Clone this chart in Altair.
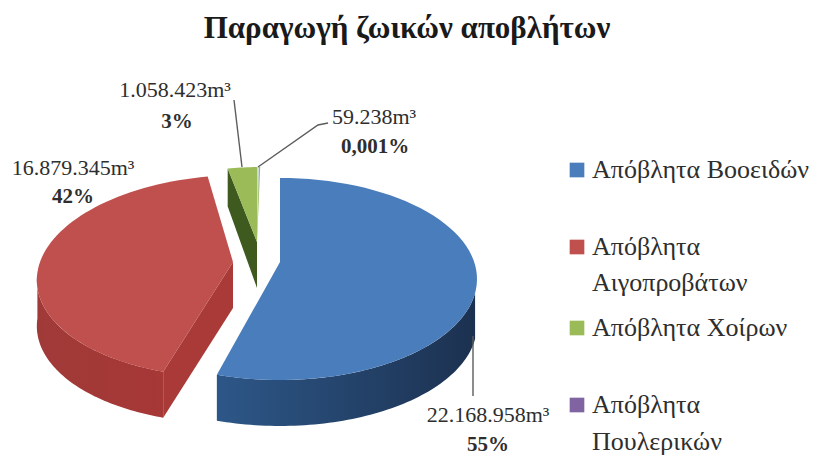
import math
import altair as alt
import pandas as pd

# Volumes per waste stream, in cubic metres
series_names = ["Απόβλητα Βοοειδών", "Απόβλητα Αιγοπροβάτων", "Απόβλητα Χοίρων", "Απόβλητα Πουλερικών"]
volumes = [22168958, 16879345, 1058423, 59238]
volume_labels = ["22.168.958m³", "16.879.345m³", "1.058.423m³", "59.238m³"]
share_labels = ["55%", "42%", "3%", "0,001%"]
colors = ["#4a7dbb", "#c0504d", "#9bbb59", "#8064a2"]

SERIF = "Liberation Serif"
W, H = 815, 455

# Slice placement on the tilted disc: rim centre, apex, lean of the exploded slices
A, B, DEPTH = 197, 101, 46
layout = {
    0: dict(cx=280, cy=279, ax=280, ay=262, lean=0.0),
    1: dict(cx=234, cy=276, ax=233, ay=262, lean=-0.08),
    2: dict(cx=259, cy=268, ax=257, ay=242, lean=-0.03),
    3: dict(cx=259, cy=268, ax=257, ay=242, lean=0.0),
}

# Turn the volumes into clockwise angles measured from twelve o'clock
total = sum(volumes)
edges = [0.0]
for v in volumes:
    edges.append(edges[-1] + 360 * v / total)


def rim(i, t0, t1, dy=0, steps=70):
    p = layout[i]
    pts = []
    for k in range(steps + 1):
        t = math.radians(t0 + (t1 - t0) * k / steps)
        y_off = -B * math.cos(t)
        pts.append([p["cx"] + A * math.sin(t) + p["lean"] * y_off, p["cy"] + y_off + dy])
    return pts


def polygon(points):
    ring = points + [points[0]]
    return {"type": "Feature", "properties": {}, "geometry": {"type": "Polygon", "coordinates": [ring]}}


def shape(points, fill):
    return alt.Chart(alt.Data(values=[polygon(points)])).mark_geoshape(
        fill=fill, strokeWidth=0, stroke="transparent"
    ).project(type="identity", scale=1, translate=[0, 0])


def side_gradient(left, right):
    return alt.Gradient(
        gradient="linear", x1=0, x2=1, y1=0, y2=0,
        stops=[alt.GradientStop(offset=0, color=left), alt.GradientStop(offset=1, color=right)],
    )


def apex(i, dy=0):
    return [layout[i]["ax"], layout[i]["ay"] + dy]


# Red slice: outer wall, cut face, top
red0, red1 = edges[1], edges[2]
red_wall = rim(1, red0, 272) + rim(1, red0, 272, dy=DEPTH)[::-1]
red_corner = rim(1, red0, red0, steps=1)[0]
red_cut = [apex(1), red_corner, [red_corner[0], red_corner[1] + DEPTH], apex(1, DEPTH)]
red_top = [apex(1)] + rim(1, red0, red1)

# Green slice and the thin sliver beside it
green0, green1 = edges[2], edges[3]
green_corner = rim(2, green0, green0, steps=1)[0]
green_cut = [apex(2), green_corner, [green_corner[0], green_corner[1] + 38], apex(2, DEPTH)]
green_top = [apex(2)] + rim(2, green0, green1, steps=10)
sliver_top = [apex(3)] + rim(3, edges[3], edges[4], steps=4)

# Blue slice: outer wall and top
blue0, blue1 = edges[0], edges[1]
blue_wall = rim(0, 98, blue1) + rim(0, 98, blue1, dy=DEPTH)[::-1]
blue_top = [apex(0)] + rim(0, blue0, blue1)

pie = [
    shape(red_wall, side_gradient("#a03a38", "#a63836")),
    shape(red_cut, "#a93a37"),
    shape(red_top, colors[1]),
    shape(green_cut, "#3f5a1f"),
    shape(green_top, colors[2]),
    shape(sliver_top, "#d5deec"),
    shape(blue_wall, side_gradient("#2d5788", "#1c3150")),
    shape(blue_top, colors[0]),
]

x_px = alt.X("x:Q", scale=alt.Scale(domain=[0, W], range=[0, W]), axis=None)
y_px = alt.Y("y:Q", scale=alt.Scale(domain=[0, H], range=[0, H]), axis=None)

# Leader lines from the value labels to the slices
leaders = pd.DataFrame([
    dict(id="a", o=0, x=234, y=100), dict(id="a", o=1, x=242, y=167),
    dict(id="b", o=0, x=258, y=167), dict(id="b", o=1, x=318, y=125), dict(id="b", o=2, x=328, y=123),
    dict(id="c", o=0, x=473, y=336), dict(id="c", o=1, x=473, y=396),
])
leader_layer = alt.Chart(leaders).mark_line(color="#5c5c5c", strokeWidth=1.4).encode(
    x=x_px, y=y_px, detail="id:N", order="o:Q"
)

value_text = pd.DataFrame([
    dict(t=volume_labels[2], x=175, y=90), dict(t=volume_labels[3], x=374, y=117),
    dict(t=volume_labels[1], x=73, y=168), dict(t=volume_labels[0], x=488, y=415),
])
share_text = pd.DataFrame([
    dict(t=share_labels[2], x=177, y=122), dict(t=share_labels[3], x=375, y=147),
    dict(t=share_labels[1], x=73, y=197), dict(t=share_labels[0], x=488, y=445),
])
value_layer = alt.Chart(value_text).mark_text(font=SERIF, fontSize=22, color="#2e2e2e").encode(
    x=x_px, y=y_px, text="t:N"
)
share_layer = alt.Chart(share_text).mark_text(font=SERIF, fontSize=21, fontWeight="bold", color="#2e2e2e").encode(
    x=x_px, y=y_px, text="t:N"
)

# Legend entries; the two longer names run over two lines
legend_y = [170, 247, 328, 405]
legend_keys = pd.DataFrame({"name": series_names, "x": [577] * 4, "y": legend_y})
legend_key_layer = alt.Chart(legend_keys).mark_square(size=215, opacity=1).encode(
    x=x_px, y=y_px,
    color=alt.Color("name:N", scale=alt.Scale(domain=series_names, range=colors), legend=None),
)
legend_lines = pd.DataFrame([
    dict(t="Απόβλητα Βοοειδών", x=592, y=170),
    dict(t="Απόβλητα", x=592, y=247), dict(t="Αιγοπροβάτων", x=592, y=283),
    dict(t="Απόβλητα Χοίρων", x=592, y=328),
    dict(t="Απόβλητα", x=592, y=405), dict(t="Πουλερικών", x=592, y=442),
])
legend_text_layer = alt.Chart(legend_lines).mark_text(
    font=SERIF, fontSize=26, color="#2e2e2e", align="left"
).encode(x=x_px, y=y_px, text="t:N")

title_layer = alt.Chart(pd.DataFrame({"t": ["Παραγωγή ζωικών αποβλήτων"], "x": [407], "y": [29]})).mark_text(
    font=SERIF, fontSize=31, fontWeight="bold", color="#1a1a1a"
).encode(x=x_px, y=y_px, text="t:N")

chart = alt.layer(
    *pie, leader_layer, value_layer, share_layer, legend_key_layer, legend_text_layer, title_layer
).properties(
    width=W, height=H, padding=0, autosize=alt.AutoSizeParams(type="none"), background="white"
).configure_view(stroke=None)

chart.save("out.html", embed_options={"renderer": "svg", "actions": False})
